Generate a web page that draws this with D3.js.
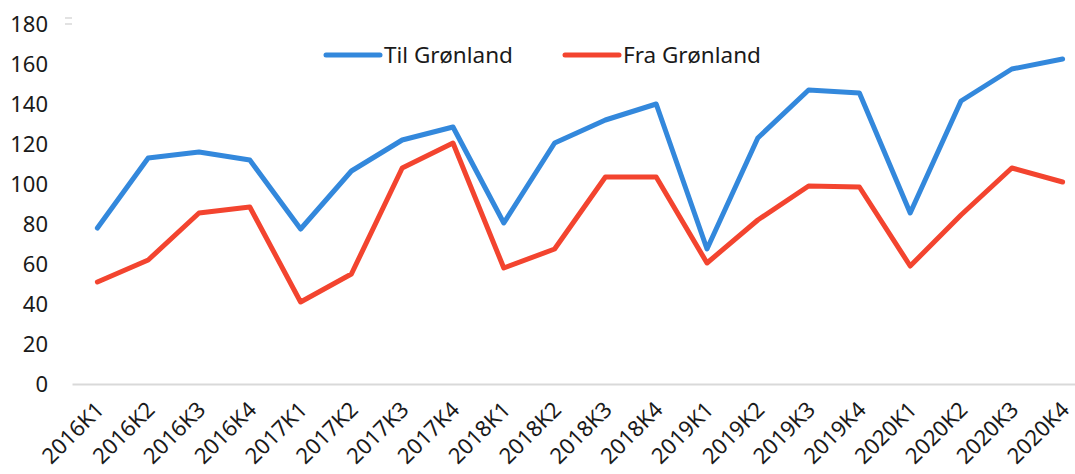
<!DOCTYPE html>
<html>
<head>
<meta charset="utf-8">
<script src="https://cdn.jsdelivr.net/npm/d3@7"></script>
<style>
  body { margin: 0; background: #fff; }
  svg { display: block; font-family: "Noto Sans", sans-serif; }
</style>
</head>
<body>
<script>
// data
var quarters = ["2016K1", "2016K2", "2016K3", "2016K4",
                "2017K1", "2017K2", "2017K3", "2017K4",
                "2018K1", "2018K2", "2018K3", "2018K4",
                "2019K1", "2019K2", "2019K3", "2019K4",
                "2020K1", "2020K2", "2020K3", "2020K4"];
var tilGronland = [78, 113, 116, 112, 77.5, 106.5, 122, 128.5, 80.5, 120.5,
                   132, 140, 67.5, 123, 147, 145.5, 85.5, 141.5, 157.5, 162.5];
var fraGronland = [51, 62, 85.5, 88.5, 41, 55, 108, 120.5, 58, 67.5,
                   103.5, 103.5, 60.5, 82, 99, 98.5, 59, 84.5, 108, 101];
var yTicks = [0, 20, 40, 60, 80, 100, 120, 140, 160, 180];
var seriesNames = ["Til Grønland", "Fra Grønland"];

var svgWidth = 1075, svgHeight = 474;
var margin = {top: 24, right: -13, bottom: 90, left: 72};
var chartWidth = svgWidth - margin.left - margin.right;
var chartHeight = svgHeight - margin.top - margin.bottom;
var fontSize = 22;

var svg = d3.select("body").append("svg")
    .attr("width", svgWidth)
    .attr("height", svgHeight);

var chartGroup = svg.append("g")
    .attr("transform", `translate(${margin.left}, ${margin.top})`);

// x is categorical, y goes 0..180
var xScale = d3.scaleBand()
    .domain(quarters)
    .range([0, chartWidth]);
var yScale = d3.scaleLinear()
    .domain([0, 180])
    .range([chartHeight, 0]);

var cx = d => xScale(d) + xScale.bandwidth() / 2;

// y axis labels only, no line
var yAxis = chartGroup.append("g")
    .call(d3.axisLeft(yScale).tickValues(yTicks).tickSize(0).tickPadding(24));
yAxis.select(".domain").remove();
yAxis.selectAll("text")
    .attr("font-size", fontSize)
    .attr("font-family", "'Noto Sans', sans-serif")
    .attr("fill", "#1a1a1a");

// x axis: grey baseline, rotated labels
var xAxis = chartGroup.append("g")
    .attr("transform", `translate(0, ${chartHeight})`)
    .call(d3.axisBottom(xScale).tickSize(0));
xAxis.select(".domain").attr("stroke", "#d9d9d9").attr("stroke-width", 2);
xAxis.selectAll("text")
    .attr("font-size", 22)
    .attr("font-family", "'Noto Sans', sans-serif")
    .attr("fill", "#1a1a1a")
    .attr("text-anchor", "end")
    .attr("dy", 0)
    .attr("y", 0)
    .attr("transform", "translate(8, 27) rotate(-45)");

// lines
var line = d3.line()
    .x((d, i) => cx(quarters[i]))
    .y(d => yScale(d));

var colors = ["#3388dc", "#f3442f"];
[tilGronland, fraGronland].forEach(function(series, k) {
  chartGroup.append("path")
      .datum(series)
      .attr("fill", "none")
      .attr("stroke", colors[k])
      .attr("stroke-width", 5)
      .attr("stroke-linejoin", "round")
      .attr("stroke-linecap", "round")
      .attr("d", line);
});

// legend
var legend = svg.append("g").attr("transform", "translate(326, 55)");
seriesNames.forEach(function(name, k) {
  var g = legend.append("g").attr("transform", `translate(${k * 239}, 0)`);
  g.append("line")
      .attr("x1", 0).attr("x2", 54)
      .attr("stroke", colors[k])
      .attr("stroke-width", 5)
      .attr("stroke-linecap", "round");
  g.append("text")
      .attr("x", 58)
      .attr("y", 8)
      .attr("font-size", 22.5)
      .attr("fill", "#1a1a1a")
      .text(name);
});

// little leftover marker near the top
svg.append("g").selectAll("line")
    .data([18, 24])
    .enter().append("line")
    .attr("x1", 65).attr("x2", 72)
    .attr("y1", d => d).attr("y2", d => d)
    .attr("stroke", "#d9d9d9")
    .attr("stroke-width", 1.5);
</script>
</body>
</html>
